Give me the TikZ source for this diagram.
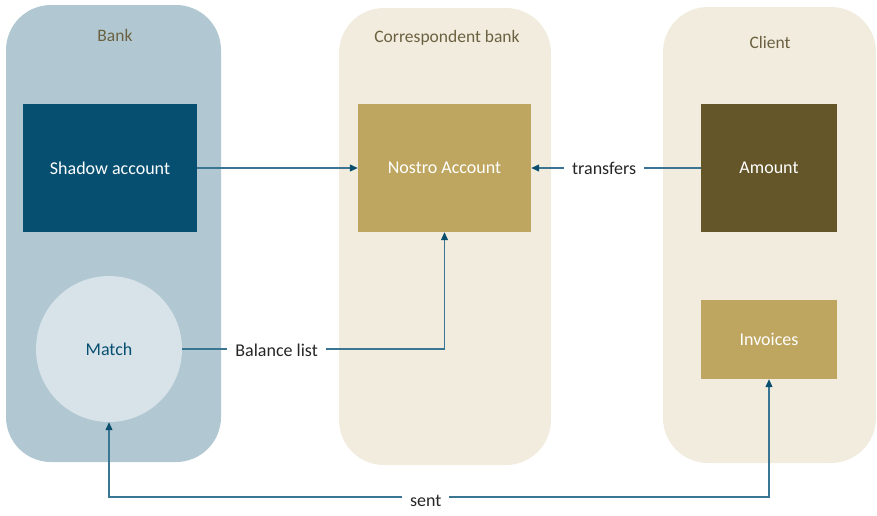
\documentclass[tikz,border=0pt]{standalone}
\usepackage{fontspec}
\setmainfont{Carlito}
\usetikzlibrary{arrows.meta}
\definecolor{lanebank}{HTML}{B1C8D3}
\definecolor{lanecream}{HTML}{F2ECDF}
\definecolor{darkblue}{HTML}{064F70}
\definecolor{gold}{HTML}{BFA660}
\definecolor{olive}{HTML}{65562A}
\definecolor{matchfill}{HTML}{D8E3E9}
\definecolor{lanetext}{HTML}{6B6140}
\definecolor{linecol}{HTML}{3A7594}
\definecolor{tipcol}{HTML}{0B4F6E}
\definecolor{lbltext}{HTML}{262626}
\tikzset{
  lane/.style={rounded corners=45pt},
  lanetitle/.style={text=lanetext, font=\fontsize{17.5}{20}\selectfont},
  box/.style={minimum width=#1, inner sep=0pt, font=\fontsize{18}{21}\selectfont},
  conn/.style={draw=linecol, line width=1.1pt, -{Triangle[length=8pt,width=7pt,color=tipcol]}},
  bothconn/.style={draw=linecol, line width=1.1pt, {Triangle[length=8pt,width=7pt,color=tipcol]}-{Triangle[length=8pt,width=7pt,color=tipcol]}},
  lbl/.style={fill=white, text=lbltext, inner sep=8pt, font=\fontsize{18}{21}\selectfont},
}
\begin{document}
\begin{tikzpicture}[x=1pt,y=-1pt]
\useasboundingbox (0,0) rectangle (877,515);
% lanes
\fill[lanebank, lane] (6,5) rectangle (221,462);
\fill[lanecream, lane] (339,8) rectangle (551,465);
\fill[lanecream, lane] (663,7) rectangle (876,463);
\node[lanetitle] (tbank) at (115,35) {Bank};
\node[lanetitle] (tcorr) at (447,38) {Correspondent bank};
\node[lanetitle] (tclient) at (770,42) {Client};
% boxes
\node[box=174pt, minimum height=128pt, fill=darkblue, text=white] (shadow) at (110,168) {Shadow account};
\node[box=173pt, minimum height=128pt, fill=gold, text=white] (nostro) at (444.5,168) {Nostro Account};
\node[box=136pt, minimum height=128pt, fill=olive, text=white] (amount) at (769,168) {Amount};
\node[box=136pt, minimum height=79pt, fill=gold, text=white] (invoices) at (769,339.5) {Invoices};
\node[circle, minimum size=146pt, inner sep=0pt, fill=matchfill, text=darkblue, font=\fontsize{18}{21}\selectfont] (match) at (109,349) {Match};
% connectors
\draw[conn] (shadow.east) -- (nostro.west);
\draw[conn] (amount.west) -- node[lbl, pos=0.57] {transfers} (nostro.east);
\draw[conn] (match.east) -| node[lbl, pos=0.18, yshift=-1.5pt] {Balance list} (nostro.south);
\coordinate (c1) at (769,497);
\draw[bothconn] (invoices.south) -- (c1) -| node[lbl, pos=0.26, yshift=-4pt] {sent} (match.south);
\end{tikzpicture}
\end{document}
